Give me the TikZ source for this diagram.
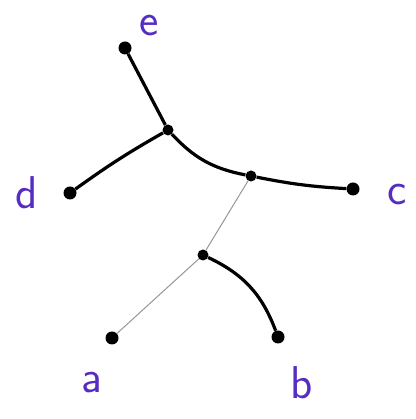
\documentclass[tikz,border=0pt]{standalone}
\usepackage{xcolor}
\usepackage{tikz}
\usetikzlibrary{positioning, calc}

\definecolor{inkblue}{RGB}{85,45,195}
\definecolor{pencil}{RGB}{150,150,150}

\begin{document}
\begin{tikzpicture}[x=1pt, y=1pt,
        dot/.style={circle, fill=black, inner sep=0pt, minimum size=13pt},
        inner/.style={circle, fill=black, inner sep=0pt, minimum size=11pt},
        leaflabel/.style={text=inkblue, font=\sffamily\fontsize{46}{54}\selectfont, inner sep=0pt},
        inkedge/.style={line width=3.2pt, black},
        pencilledge/.style={line width=1pt, pencil}]

            % Frame
            \useasboundingbox (0,0) rectangle (415,419);

            % Leaves
            \node[dot] (e) at (125,371) {};
            \node[dot] (d) at (70,226) {};
            \node[dot] (c) at (353,230) {};
            \node[dot] (a) at (112,81) {};
            \node[dot] (b) at (278,82) {};

            % Inner vertices
            \node[inner] (uone) at (168,289) {};
            \node[inner] (utwo) at (251,243) {};
            \node[inner] (uthree) at (203,164) {};

            % Leaf labels
            \node[leaflabel] (labele) at (149,393) {e};
            \node[leaflabel] (labeld) at (27,226) {d};
            \node[leaflabel] (labelc) at (397,224) {c};
            \node[leaflabel] (labela) at (92,36) {a};
            \node[leaflabel] (labelb) at (302,36) {b};

            % Inked edges
            \draw[inkedge] (uone) -- (e);
            \draw[inkedge] (uone) to[bend right=3] (d);
            \draw[inkedge] (uone) to[bend right=18] (utwo);
            \draw[inkedge] (utwo) to[bend right=4] (c);
            \draw[inkedge] (uthree) to[bend left=22] (b);

            % Pencil edges
            \draw[pencilledge] (utwo) -- (uthree);
            \draw[pencilledge] (uthree) -- (a);

\end{tikzpicture}
\end{document}
